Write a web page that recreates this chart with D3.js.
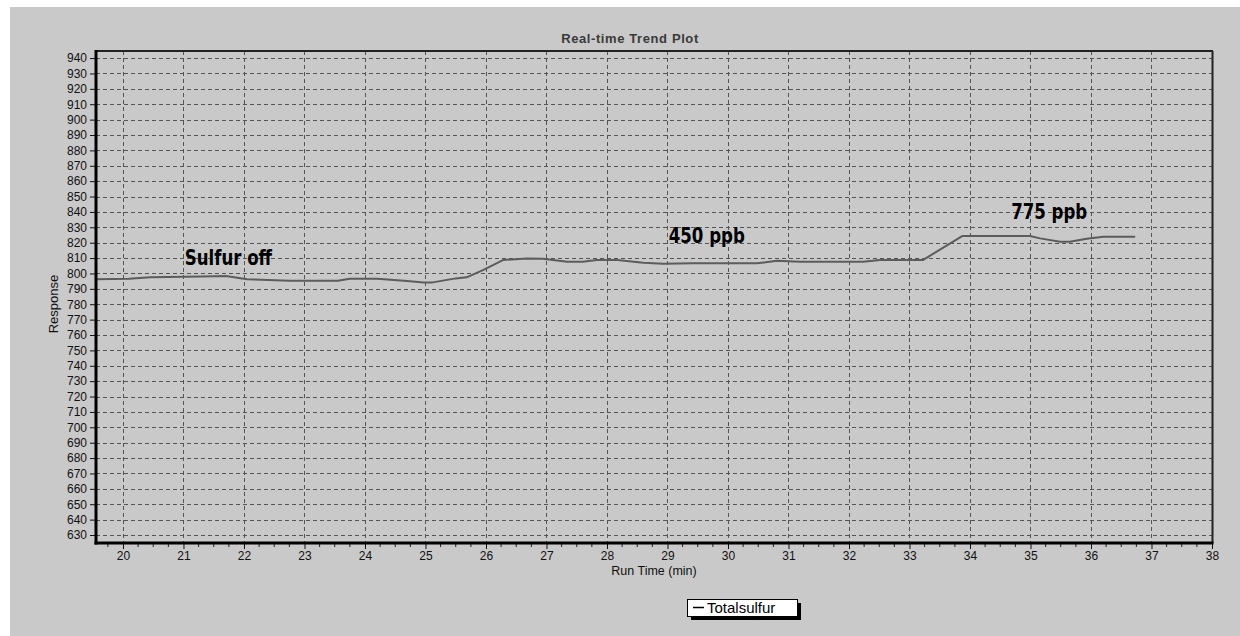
<!DOCTYPE html>
<html>
<head>
<meta charset="utf-8">
<script src="https://cdn.jsdelivr.net/npm/d3@7"></script>
<style>
  html, body { margin: 0; padding: 0; background: #ffffff; }
  svg { display: block; }
</style>
</head>
<body>
<svg id="chart" width="1240" height="636"></svg>
<script>
// Total sulfur response over run time
const runTime = [19.55, 20.1, 20.45, 21.3, 21.7, 22.05, 22.75, 23.55, 23.75, 24.2, 24.7, 24.97, 25.12, 25.5, 25.68, 25.95, 26.28, 26.68, 26.94, 27.34, 27.6, 27.83, 28.17, 28.6, 28.93, 29.42, 30.48, 30.81, 31.19, 32.23, 32.51, 33.22, 33.87, 34.99, 35.16, 35.49, 35.65, 35.93, 36.2, 36.73];
const response = [796.2, 796.6, 797.5, 798.1, 798.3, 796.2, 795.3, 795.3, 796.6, 796.6, 795.1, 794.2, 794.2, 796.8, 797.5, 802.2, 808.7, 809.8, 809.6, 807.6, 807.6, 808.7, 808.7, 807.0, 806.3, 806.6, 806.6, 808.3, 807.6, 807.6, 808.7, 808.7, 824.3, 824.3, 822.8, 820.6, 820.6, 822.6, 823.9, 823.9];

const xTicks = d3.range(20, 39, 1);
const yTicks = d3.range(630, 941, 10);

// Annotation text placed at (run time, response)
const noteText = ["Sulfur off", "450 ppb", "775 ppb"];
const noteTime = [21.02, 29.02, 34.68];
const noteResp = [805.7, 820.0, 835.6];

const seriesName = "Totalsulfur";
const chartTitle = "Real-time Trend Plot";

const svg = d3.select("#chart");
const bg = "#c9c9c9";

// Gray panel (white margin along the top and left)
svg.append("rect").attr("x", 10).attr("y", 7).attr("width", 1230).attr("height", 629).attr("fill", bg);

const plot = { left: 96, right: 1212, top: 51, bottom: 543 };

const x = d3.scaleLinear().domain([19.554, 38]).range([plot.left, plot.right]);
const y = d3.scaleLinear().domain([624.8, 944.6]).range([plot.bottom, plot.top]);

const font = "Arial, 'Liberation Sans', sans-serif";

// Grid lines
const grid = svg.append("g").attr("stroke", "#555").attr("stroke-width", 1).attr("stroke-dasharray", "4,3");
grid.selectAll("line.h").data(yTicks).join("line")
  .attr("x1", plot.left).attr("x2", plot.right)
  .attr("y1", d => Math.round(y(d)) + 0.5).attr("y2", d => Math.round(y(d)) + 0.5);
grid.selectAll("line.v").data(xTicks).join("line")
  .attr("y1", plot.top).attr("y2", plot.bottom)
  .attr("x1", d => Math.round(x(d)) + 0.5).attr("x2", d => Math.round(x(d)) + 0.5);

// Trend line
const line = d3.line().x((d, i) => x(runTime[i])).y(d => y(d));
svg.append("path").datum(response)
  .attr("fill", "none").attr("stroke", "#5c5c5c").attr("stroke-width", 2)
  .attr("stroke-linejoin", "round")
  .attr("d", line);

// Frame: thin top/right, heavy left/bottom
svg.append("line").attr("x1", plot.left).attr("x2", plot.right + 1).attr("y1", plot.top).attr("y2", plot.top)
  .attr("stroke", "#222").attr("stroke-width", 2);
svg.append("line").attr("x1", plot.right + 0.5).attr("x2", plot.right + 0.5).attr("y1", plot.top).attr("y2", plot.bottom)
  .attr("stroke", "#222").attr("stroke-width", 2);

// Y axis
const yAxis = d3.axisLeft(y).tickValues(yTicks).tickSize(6).tickPadding(3);
const gy = svg.append("g").attr("transform", `translate(${plot.left},0)`).call(yAxis);
gy.select(".domain").remove();
gy.selectAll(".tick line").attr("stroke", "#111");
gy.selectAll(".tick text").attr("font-family", font).attr("font-size", 12).attr("fill", "#111");
svg.append("line").attr("x1", plot.left).attr("x2", plot.left).attr("y1", plot.top - 1).attr("y2", plot.bottom + 1.5)
  .attr("stroke", "#000").attr("stroke-width", 3);

// X axis: minor quarter ticks plus labelled whole minutes
const minor = d3.range(19.75, 38, 0.25).filter(t => Math.abs(t - Math.round(t)) > 1e-6);
svg.append("g").selectAll("line").data(minor).join("line")
  .attr("x1", d => x(d)).attr("x2", d => x(d))
  .attr("y1", plot.bottom).attr("y2", plot.bottom + 4)
  .attr("stroke", "#222");
const xAxis = d3.axisBottom(x).tickValues(xTicks).tickSize(6).tickPadding(2).tickFormat(d3.format("d"));
const gx = svg.append("g").attr("transform", `translate(0,${plot.bottom})`).call(xAxis);
gx.select(".domain").remove();
gx.selectAll(".tick line").attr("stroke", "#111");
gx.selectAll(".tick text").attr("font-family", font).attr("font-size", 12).attr("fill", "#111");
svg.append("line").attr("x1", plot.left - 1.5).attr("x2", plot.right + 1.5).attr("y1", plot.bottom).attr("y2", plot.bottom)
  .attr("stroke", "#000").attr("stroke-width", 3);

// Title and axis titles
svg.append("text").attr("x", 630).attr("y", 43).attr("text-anchor", "middle")
  .attr("font-family", font).attr("font-size", 13).attr("font-weight", "bold")
  .attr("letter-spacing", 0.6).attr("fill", "#3a3a3a").text(chartTitle);
svg.append("text").attr("x", 654).attr("y", 575).attr("text-anchor", "middle")
  .attr("font-family", font).attr("font-size", 12.5).attr("fill", "#111").text("Run Time (min)");
svg.append("text").attr("transform", "translate(58,304) rotate(-90)").attr("text-anchor", "middle")
  .attr("font-family", font).attr("font-size", 13).attr("fill", "#111").text("Response");

// Annotations in a bold condensed face
svg.append("g").selectAll("text").data(noteText).join("text")
  .attr("transform", (d, i) => `translate(${x(noteTime[i])},${y(noteResp[i])}) scale(0.84,1)`)
  .attr("font-family", "'Liberation Sans Narrow', 'DejaVu Sans Condensed', sans-serif")
  .attr("font-stretch", "condensed")
  .attr("font-size", 22).attr("font-weight", "bold").attr("fill", "#000")
  .text(d => d);

// Legend with drop shadow
const lg = svg.append("g").attr("transform", "translate(687,599)");
lg.append("rect").attr("x", 4).attr("y", 4).attr("width", 110).attr("height", 17).attr("fill", "#000");
lg.append("rect").attr("x", 0.5).attr("y", 0.5).attr("width", 110).attr("height", 17).attr("fill", "#fff").attr("stroke", "#000");
lg.append("line").attr("x1", 6).attr("x2", 17).attr("y1", 8.5).attr("y2", 8.5).attr("stroke", "#000").attr("stroke-width", 1.5);
lg.append("text").attr("x", 20).attr("y", 14).attr("font-family", font).attr("font-size", 15).attr("fill", "#000").text(seriesName);
</script>
</body>
</html>
